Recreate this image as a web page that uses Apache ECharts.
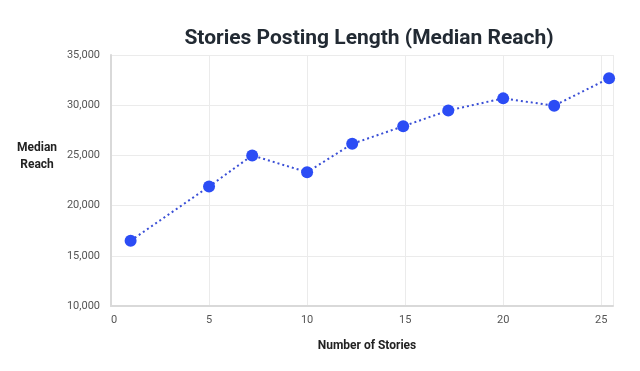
<!DOCTYPE html>
<html>
<head>
<meta charset="utf-8">
<script src="https://cdn.jsdelivr.net/npm/echarts@6/dist/echarts.min.js"></script>
<style>
html,body{margin:0;padding:0;background:#fff;}
#chart{width:640px;height:371px;}
</style>
</head>
<body>
<div id="chart"></div>
<script>
const storyCounts = [1, 5, 7.2, 10, 12.3, 14.9, 17.2, 20, 22.6, 25.4];
const medianReach = [16500, 21900, 25000, 23330, 26150, 27900, 29470, 30680, 29950, 32680];
const xTickValues = [0, 5, 10, 15, 20, 25];
const yTickValues = [10000, 15000, 20000, 25000, 30000, 35000];

const points = storyCounts.map((x, i) => [x, medianReach[i]]);

const chart = echarts.init(document.getElementById('chart'), null, {renderer: 'canvas'});
chart.setOption({
  animation: false,
  backgroundColor: '#ffffff',
  textStyle: {fontFamily: 'Roboto'},
  title: [{
    text: 'Stories Posting Length (Median Reach)',
    left: 364,
    top: 23,
    textAlign: 'center',
    textStyle: {fontFamily: 'Roboto', fontSize: 21, fontWeight: 'bold', color: '#222a33'}
  }, {
    text: 'Median\nReach',
    left: 32,
    top: 134,
    textAlign: 'center',
    textStyle: {fontFamily: 'Roboto', fontSize: 12, fontWeight: 'bold', color: '#222', lineHeight: 17}
  }],
  grid: {left: 111, right: 27, top: 55, bottom: 65, containLabel: false},
  xAxis: {
    type: 'value',
    min: 0,
    max: 25.6,
    interval: 5,
    name: 'Number of Stories',
    nameLocation: 'middle',
    nameGap: 34,
    nameTextStyle: {fontFamily: 'Roboto', fontSize: 12, fontWeight: 'bold', color: '#222', padding: [0, 0, 0, 10]},
    axisLine: {show: true, lineStyle: {color: '#d9d9d9', width: 2}},
    axisTick: {show: false},
    axisLabel: {
      color: '#555', fontSize: 11, margin: 9,
      alignMinLabel: 'left',
      formatter: v => xTickValues.includes(v) ? String(v) : ''
    },
    splitLine: {show: true, lineStyle: {color: '#ebebeb', width: 1}}
  },
  yAxis: {
    type: 'value',
    min: yTickValues[0],
    max: yTickValues[yTickValues.length - 1],
    interval: 5000,
    axisLine: {show: true, lineStyle: {color: '#d9d9d9', width: 2}},
    axisTick: {show: false},
    axisLabel: {
      color: '#555', fontSize: 11, margin: 11,
      formatter: v => v.toLocaleString('en-US')
    },
    splitLine: {show: true, lineStyle: {color: '#ebebeb', width: 1}}
  },
  series: [{
    type: 'line',
    data: points,
    symbol: 'circle',
    symbolSize: 12,
    itemStyle: {color: '#2b4cf5'},
    lineStyle: {color: '#3a4fd6', width: 2, type: [2, 3]},
    z: 3
  }]
});
</script>
</body>
</html>
